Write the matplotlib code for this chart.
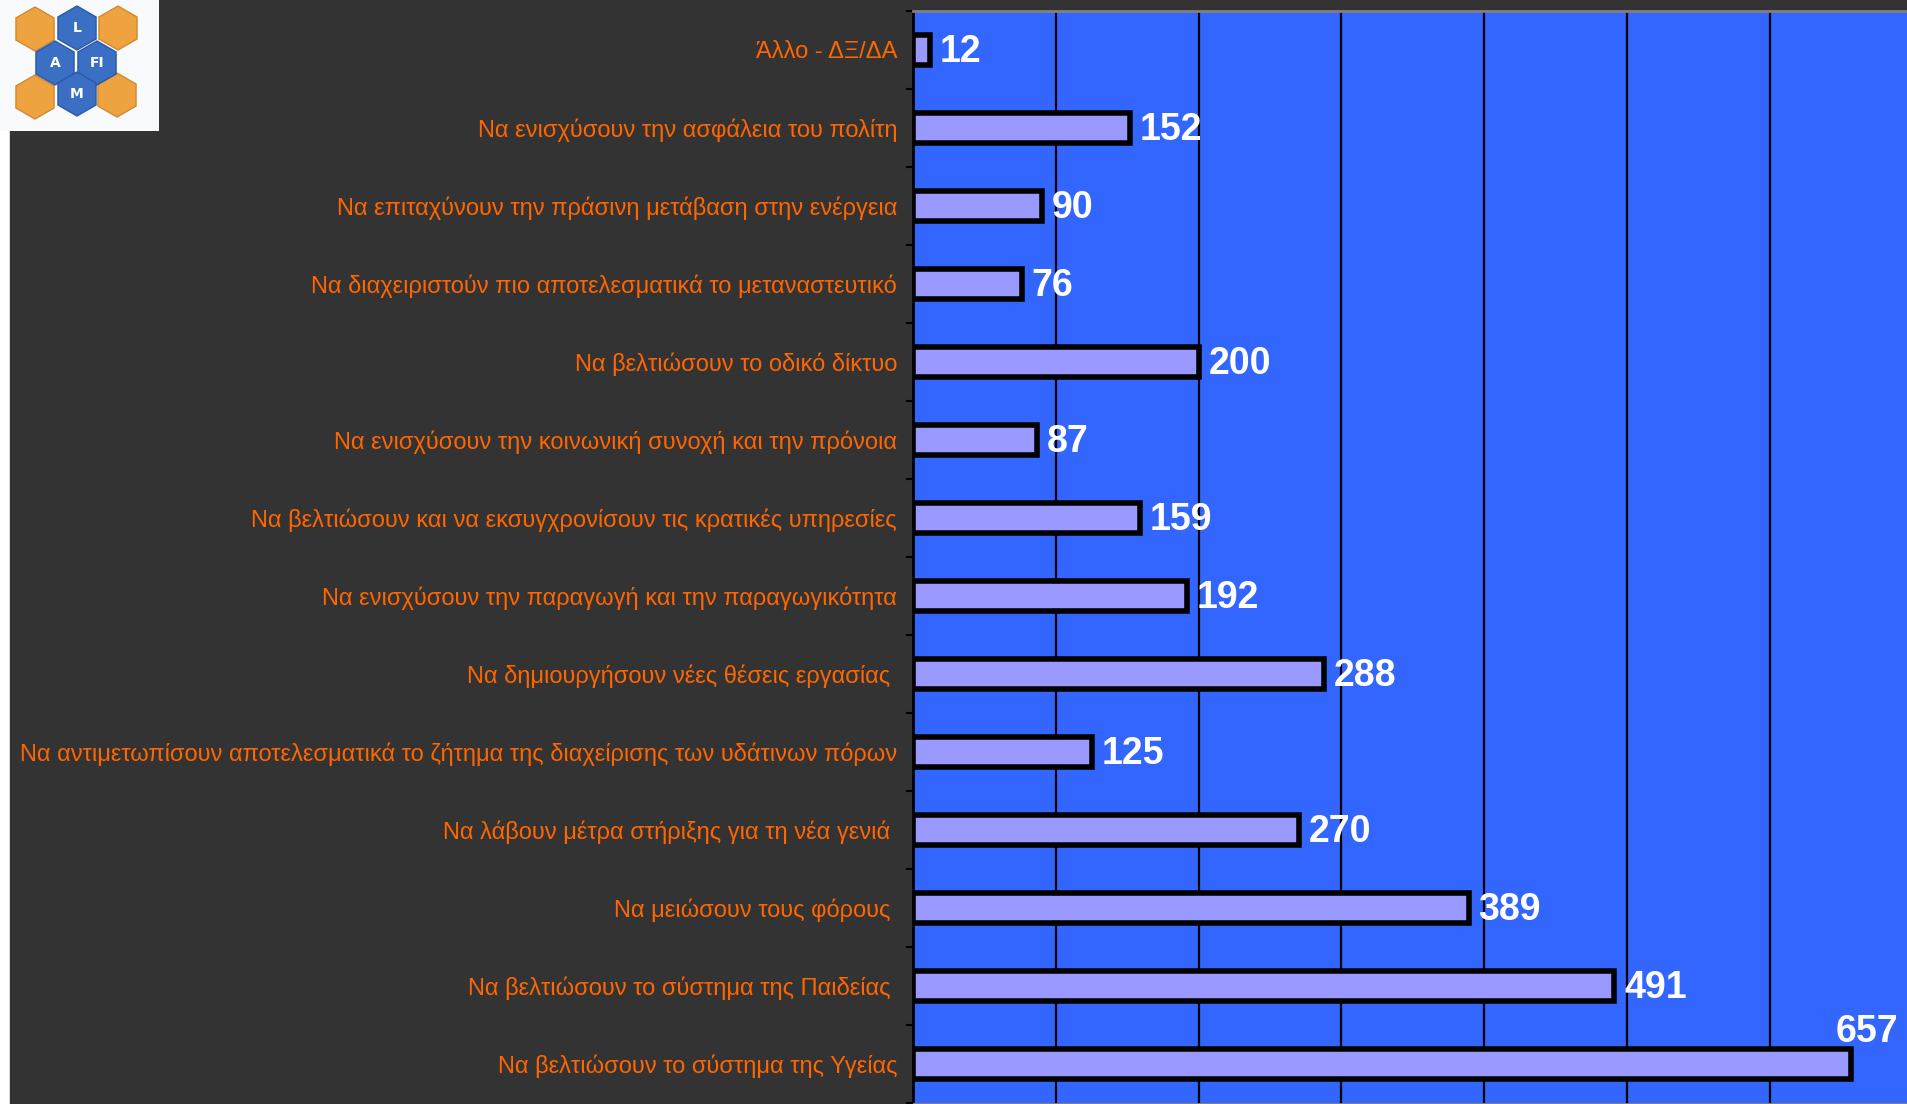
import numpy as np
import matplotlib
matplotlib.use('Agg')
import matplotlib.pyplot as plt
from matplotlib import font_manager
from matplotlib.patches import Rectangle, RegularPolygon

# categories from top to bottom, as in the picture
categories = [
    'Άλλο - ΔΞ/ΔΑ',
    'Να ενισχύσουν την ασφάλεια του πολίτη',
    'Να επιταχύνουν την πράσινη μετάβαση στην ενέργεια',
    'Να διαχειριστούν πιο αποτελεσματικά το μεταναστευτικό',
    'Να βελτιώσουν το οδικό δίκτυο',
    'Να ενισχύσουν την κοινωνική συνοχή και την πρόνοια',
    'Να βελτιώσουν και να εκσυγχρονίσουν τις κρατικές υπηρεσίες',
    'Να ενισχύσουν την παραγωγή και την παραγωγικότητα',
    'Να δημιουργήσουν νέες θέσεις εργασίας ',
    'Να αντιμετωπίσουν αποτελεσματικά το ζήτημα της διαχείρισης των υδάτινων πόρων',
    'Να λάβουν μέτρα στήριξης για τη νέα γενιά ',
    'Να μειώσουν τους φόρους ',
    'Να βελτιώσουν το σύστημα της Παιδείας ',
    'Να βελτιώσουν το σύστημα της Υγείας',
]
values = [12, 152, 90, 76, 200, 87, 159, 192, 288, 125, 270, 389, 491, 657]

# logo
logo_orange = [(35, 29), (118, 28), (35, 97), (117, 95)]
logo_blue = [(77, 28, 'L'), (55, 63, 'A'), (97, 63, 'FI'), (77, 94, 'M')]

installed = {f.name for f in font_manager.fontManager.ttflist}
if 'Liberation Sans Narrow' in installed:
    fam = 'Liberation Sans Narrow'
    lab_size, val_size = 20, 32
else:
    fam = 'Liberation Sans'
    lab_size, val_size = 17, 27

W, H = 1907, 1104
fig = plt.figure(figsize=(W / 100, H / 100), dpi=100)
fig.patch.set_facecolor('white')
fig.add_artist(Rectangle((10 / W, 0), 1, 1, transform=fig.transFigure,
                         color='#333333', zorder=-5))

ax = fig.add_axes([913 / W, 1 / H, (W - 913) / W, (H - 12) / H])
ax.set_facecolor('#3366FF')
y = np.arange(len(categories))
ax.barh(y, values, height=0.38, color='#9999FF', edgecolor='black',
        linewidth=4, zorder=3)
ax.set_xlim(0, 696)
ax.set_ylim(len(categories) - 0.5, -0.5)

ax.set_xticks(range(100, 700, 100))
ax.xaxis.grid(True, color='black', linewidth=1.6)
ax.set_axisbelow(True)
ax.tick_params(axis='x', length=0, labelbottom=False)

ax.set_yticks(y)
ax.set_yticklabels(categories, color='#FF6600', fontsize=lab_size, family=fam)
ax.tick_params(axis='y', which='major', length=0, pad=11.5)
ax.set_yticks(np.arange(-0.5, len(categories), 1), minor=True)
ax.tick_params(axis='y', which='minor', length=5, width=1.5, color='black')

ax.spines['left'].set_color('black')
ax.spines['left'].set_linewidth(2)
ax.spines['top'].set_color('#808080')
ax.spines['top'].set_linewidth(2)
ax.spines['bottom'].set_color('#808080')
ax.spines['right'].set_visible(False)

vmax = max(values)
for i, v in enumerate(values):
    if v == vmax:
        ax.annotate(str(v), xy=(v, i), xytext=(-11, 23), textcoords='offset points',
                    ha='left', va='center', color='white', fontsize=val_size,
                    family=fam, fontweight='bold', annotation_clip=False)
    else:
        ax.annotate(str(v), xy=(v, i), xytext=(7, -1.5), textcoords='offset points',
                    ha='left', va='center', color='white', fontsize=val_size,
                    family=fam, fontweight='bold')

# logo top left
lg = fig.add_axes([0, 1 - 131 / H, 159 / W, 131 / H])
lg.set_facecolor('#F8FAFC')
lg.set_xlim(0, 159)
lg.set_ylim(131, 0)
for s in lg.spines.values():
    s.set_visible(False)
lg.set_xticks([])
lg.set_yticks([])
for (cx, cy) in logo_orange:
    lg.add_patch(RegularPolygon((cx, cy), 6, radius=22, facecolor='#EFA340',
                                edgecolor='#D08A30', linewidth=1))
for (cx, cy, t) in logo_blue:
    lg.add_patch(RegularPolygon((cx, cy), 6, radius=22, facecolor='#3A6FC4',
                                edgecolor='#2A5AA8', linewidth=1))
    lg.text(cx, cy, t, color='white', fontsize=10, fontweight='bold',
            ha='center', va='center')

fig.savefig('out.png', dpi=100)
